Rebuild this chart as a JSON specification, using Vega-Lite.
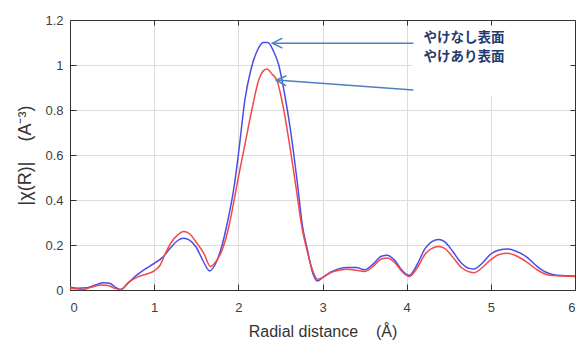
{
  "$schema": "https://vega.github.io/schema/vega-lite/v6.json",
  "autosize": "none",
  "width": 505,
  "height": 270,
  "padding": {"left": 70, "top": 20, "right": 1, "bottom": 50},
  "background": "white",
  "config": {
    "view": {"stroke": null},
    "axis": {
      "labelFont": "Liberation Sans",
      "labelFontSize": 13,
      "labelColor": "#404040",
      "titleFont": "Liberation Sans",
      "titleFontWeight": "normal",
      "titleColor": "#333333",
      "domainColor": "#333333",
      "domainWidth": 1,
      "tickColor": "#333333",
      "tickSize": -6,
      "gridColor": "#dcdcdc",
      "gridWidth": 1
    }
  },
  "datasets": {
    "curves": [
      {"series": "やけなし表面", "r": 0.0, "v": 0.012},
      {"series": "やけなし表面", "r": 0.1, "v": 0.008},
      {"series": "やけなし表面", "r": 0.2, "v": 0.01},
      {"series": "やけなし表面", "r": 0.3, "v": 0.022},
      {"series": "やけなし表面", "r": 0.4, "v": 0.032},
      {"series": "やけなし表面", "r": 0.47, "v": 0.03},
      {"series": "やけなし表面", "r": 0.55, "v": 0.01},
      {"series": "やけなし表面", "r": 0.6, "v": 0.002},
      {"series": "やけなし表面", "r": 0.7, "v": 0.035},
      {"series": "やけなし表面", "r": 0.8, "v": 0.068},
      {"series": "やけなし表面", "r": 0.9, "v": 0.095},
      {"series": "やけなし表面", "r": 1.0, "v": 0.118},
      {"series": "やけなし表面", "r": 1.1, "v": 0.145},
      {"series": "やけなし表面", "r": 1.2, "v": 0.19},
      {"series": "やけなし表面", "r": 1.28, "v": 0.22},
      {"series": "やけなし表面", "r": 1.35, "v": 0.23},
      {"series": "やけなし表面", "r": 1.42, "v": 0.222},
      {"series": "やけなし表面", "r": 1.5, "v": 0.19},
      {"series": "やけなし表面", "r": 1.58, "v": 0.13},
      {"series": "やけなし表面", "r": 1.66, "v": 0.085},
      {"series": "やけなし表面", "r": 1.72, "v": 0.11},
      {"series": "やけなし表面", "r": 1.8, "v": 0.19},
      {"series": "やけなし表面", "r": 1.87, "v": 0.3},
      {"series": "やけなし表面", "r": 1.95, "v": 0.46},
      {"series": "やけなし表面", "r": 2.0, "v": 0.6},
      {"series": "やけなし表面", "r": 2.08, "v": 0.85},
      {"series": "やけなし表面", "r": 2.15, "v": 0.98},
      {"series": "やけなし表面", "r": 2.22, "v": 1.06},
      {"series": "やけなし表面", "r": 2.3, "v": 1.1},
      {"series": "やけなし表面", "r": 2.35, "v": 1.1},
      {"series": "やけなし表面", "r": 2.42, "v": 1.06},
      {"series": "やけなし表面", "r": 2.48, "v": 1.0},
      {"series": "やけなし表面", "r": 2.55, "v": 0.87},
      {"series": "やけなし表面", "r": 2.62, "v": 0.71},
      {"series": "やけなし表面", "r": 2.7, "v": 0.48},
      {"series": "やけなし表面", "r": 2.76, "v": 0.29},
      {"series": "やけなし表面", "r": 2.82, "v": 0.18},
      {"series": "やけなし表面", "r": 2.88, "v": 0.08},
      {"series": "やけなし表面", "r": 2.94, "v": 0.04},
      {"series": "やけなし表面", "r": 3.0, "v": 0.055},
      {"series": "やけなし表面", "r": 3.1, "v": 0.08},
      {"series": "やけなし表面", "r": 3.2, "v": 0.095},
      {"series": "やけなし表面", "r": 3.3, "v": 0.1},
      {"series": "やけなし表面", "r": 3.4, "v": 0.1},
      {"series": "やけなし表面", "r": 3.5, "v": 0.09},
      {"series": "やけなし表面", "r": 3.6, "v": 0.115},
      {"series": "やけなし表面", "r": 3.7, "v": 0.15},
      {"series": "やけなし表面", "r": 3.77, "v": 0.155},
      {"series": "やけなし表面", "r": 3.85, "v": 0.135},
      {"series": "やけなし表面", "r": 3.95, "v": 0.085},
      {"series": "やけなし表面", "r": 4.03, "v": 0.065},
      {"series": "やけなし表面", "r": 4.12, "v": 0.11},
      {"series": "やけなし表面", "r": 4.22, "v": 0.185},
      {"series": "やけなし表面", "r": 4.3, "v": 0.215},
      {"series": "やけなし表面", "r": 4.38, "v": 0.225},
      {"series": "やけなし表面", "r": 4.45, "v": 0.215},
      {"series": "やけなし表面", "r": 4.55, "v": 0.17},
      {"series": "やけなし表面", "r": 4.65, "v": 0.12},
      {"series": "やけなし表面", "r": 4.75, "v": 0.095},
      {"series": "やけなし表面", "r": 4.8, "v": 0.093},
      {"series": "やけなし表面", "r": 4.9, "v": 0.12},
      {"series": "やけなし表面", "r": 5.0, "v": 0.16},
      {"series": "やけなし表面", "r": 5.1, "v": 0.178},
      {"series": "やけなし表面", "r": 5.2, "v": 0.182},
      {"series": "やけなし表面", "r": 5.3, "v": 0.172},
      {"series": "やけなし表面", "r": 5.42, "v": 0.148},
      {"series": "やけなし表面", "r": 5.55, "v": 0.105},
      {"series": "やけなし表面", "r": 5.65, "v": 0.08},
      {"series": "やけなし表面", "r": 5.75, "v": 0.068},
      {"series": "やけなし表面", "r": 5.85, "v": 0.064},
      {"series": "やけなし表面", "r": 6.0, "v": 0.062},
      {"series": "やけあり表面", "r": 0.0, "v": 0.008},
      {"series": "やけあり表面", "r": 0.1, "v": 0.004},
      {"series": "やけあり表面", "r": 0.15, "v": 0.002},
      {"series": "やけあり表面", "r": 0.25, "v": 0.012},
      {"series": "やけあり表面", "r": 0.37, "v": 0.022},
      {"series": "やけあり表面", "r": 0.45, "v": 0.02},
      {"series": "やけあり表面", "r": 0.55, "v": 0.005},
      {"series": "やけあり表面", "r": 0.6, "v": 0.002},
      {"series": "やけあり表面", "r": 0.7, "v": 0.035},
      {"series": "やけあり表面", "r": 0.8, "v": 0.057},
      {"series": "やけあり表面", "r": 0.9, "v": 0.07},
      {"series": "やけあり表面", "r": 1.0, "v": 0.085},
      {"series": "やけあり表面", "r": 1.07, "v": 0.11},
      {"series": "やけあり表面", "r": 1.13, "v": 0.16},
      {"series": "やけあり表面", "r": 1.2, "v": 0.21},
      {"series": "やけあり表面", "r": 1.28, "v": 0.245},
      {"series": "やけあり表面", "r": 1.35, "v": 0.26},
      {"series": "やけあり表面", "r": 1.42, "v": 0.25},
      {"series": "やけあり表面", "r": 1.51, "v": 0.207},
      {"series": "やけあり表面", "r": 1.59, "v": 0.163},
      {"series": "やけあり表面", "r": 1.67, "v": 0.104},
      {"series": "やけあり表面", "r": 1.72, "v": 0.12},
      {"series": "やけあり表面", "r": 1.81, "v": 0.18},
      {"series": "やけあり表面", "r": 1.88, "v": 0.27},
      {"series": "やけあり表面", "r": 1.95, "v": 0.4},
      {"series": "やけあり表面", "r": 2.0, "v": 0.5},
      {"series": "やけあり表面", "r": 2.08, "v": 0.65},
      {"series": "やけあり表面", "r": 2.16, "v": 0.8},
      {"series": "やけあり表面", "r": 2.24, "v": 0.93},
      {"series": "やけあり表面", "r": 2.3, "v": 0.975},
      {"series": "やけあり表面", "r": 2.34, "v": 0.982},
      {"series": "やけあり表面", "r": 2.4, "v": 0.96},
      {"series": "やけあり表面", "r": 2.46, "v": 0.93},
      {"series": "やけあり表面", "r": 2.53, "v": 0.82},
      {"series": "やけあり表面", "r": 2.6, "v": 0.667},
      {"series": "やけあり表面", "r": 2.68, "v": 0.47},
      {"series": "やけあり表面", "r": 2.76, "v": 0.27},
      {"series": "やけあり表面", "r": 2.82, "v": 0.17},
      {"series": "やけあり表面", "r": 2.88, "v": 0.09},
      {"series": "やけあり表面", "r": 2.94, "v": 0.048},
      {"series": "やけあり表面", "r": 3.0, "v": 0.055},
      {"series": "やけあり表面", "r": 3.1, "v": 0.078},
      {"series": "やけあり表面", "r": 3.2, "v": 0.088},
      {"series": "やけあり表面", "r": 3.3, "v": 0.092},
      {"series": "やけあり表面", "r": 3.4, "v": 0.088},
      {"series": "やけあり表面", "r": 3.5, "v": 0.082},
      {"series": "やけあり表面", "r": 3.6, "v": 0.105},
      {"series": "やけあり表面", "r": 3.7, "v": 0.138},
      {"series": "やけあり表面", "r": 3.77, "v": 0.142},
      {"series": "やけあり表面", "r": 3.85, "v": 0.125},
      {"series": "やけあり表面", "r": 3.95, "v": 0.08},
      {"series": "やけあり表面", "r": 4.03, "v": 0.06},
      {"series": "やけあり表面", "r": 4.12, "v": 0.095},
      {"series": "やけあり表面", "r": 4.22, "v": 0.16},
      {"series": "やけあり表面", "r": 4.3, "v": 0.185},
      {"series": "やけあり表面", "r": 4.38, "v": 0.193},
      {"series": "やけあり表面", "r": 4.45, "v": 0.185},
      {"series": "やけあり表面", "r": 4.55, "v": 0.145},
      {"series": "やけあり表面", "r": 4.65, "v": 0.1},
      {"series": "やけあり表面", "r": 4.75, "v": 0.08},
      {"series": "やけあり表面", "r": 4.8, "v": 0.077},
      {"series": "やけあり表面", "r": 4.9, "v": 0.1},
      {"series": "やけあり表面", "r": 5.0, "v": 0.135},
      {"series": "やけあり表面", "r": 5.1, "v": 0.158},
      {"series": "やけあり表面", "r": 5.2, "v": 0.163},
      {"series": "やけあり表面", "r": 5.3, "v": 0.152},
      {"series": "やけあり表面", "r": 5.42, "v": 0.126},
      {"series": "やけあり表面", "r": 5.55, "v": 0.09},
      {"series": "やけあり表面", "r": 5.65, "v": 0.07},
      {"series": "やけあり表面", "r": 5.75, "v": 0.064},
      {"series": "やけあり表面", "r": 5.85, "v": 0.062},
      {"series": "やけあり表面", "r": 6.0, "v": 0.06}
    ],
    "labelbox": [{"x0": 4.07, "x1": 6.0, "y0": 0.86, "y1": 1.2}],
    "arrows": [
      {"label": "やけなし表面", "tx": 4.08, "ty": 1.097, "hx": 2.405, "hy": 1.097},
      {"label": "やけあり表面", "tx": 4.08, "ty": 0.889, "hx": 2.45, "hy": 0.933}
    ],
    "labels": [
      {"label": "やけなし表面", "lx": 4.2, "ly": 1.12},
      {"label": "やけあり表面", "lx": 4.2, "ly": 1.036}
    ]
  },
  "resolve": {"axis": {"x": "independent", "y": "independent"}},
  "layer": [
    {
      "data": {"name": "curves"},
      "mark": {"type": "line", "strokeWidth": 1.5, "interpolate": "monotone"},
      "encoding": {
        "x": {
          "field": "r", "type": "quantitative",
          "scale": {"domain": [0, 6], "nice": false},
          "axis": {
            "orient": "bottom", "values": [0, 1, 2, 3, 4, 5, 6], "format": "~g",
            "grid": true, "labelPadding": 17, "title": "Radial distance\u00a0\u00a0\u00a0\u00a0(Å)",
            "titleFontSize": 16, "titlePadding": 9
          }
        },
        "y": {
          "field": "v", "type": "quantitative",
          "scale": {"domain": [0, 1.2], "nice": false},
          "axis": {
            "orient": "left", "values": [0, 0.2, 0.4, 0.6, 0.8, 1, 1.2], "format": "~g",
            "grid": true, "labelPadding": 13, "title": "|χ(R)|\u00a0\u00a0\u00a0\u00a0(A⁻³)",
            "titleFontSize": 18, "titlePadding": 10
          }
        },
        "color": {
          "field": "series", "type": "nominal",
          "scale": {"domain": ["やけなし表面", "やけあり表面"], "range": ["#4b4be8", "#f04a4a"]},
          "legend": null
        },
        "order": {"field": "r", "type": "quantitative"}
      }
    },
    {
      "data": {"name": "labelbox"},
      "mark": {"type": "rect", "fill": "white"},
      "encoding": {
        "x": {
          "field": "x0", "type": "quantitative",
          "axis": {"orient": "top", "values": [1, 2, 3, 4, 5], "labels": false, "title": null, "grid": false, "tickSize": -5, "zindex": 1}
        },
        "x2": {"field": "x1"},
        "y": {
          "field": "y0", "type": "quantitative",
          "axis": {"orient": "right", "values": [0.2, 0.4, 0.6, 0.8, 1], "labels": false, "title": null, "grid": false, "tickSize": -5, "zindex": 1}
        },
        "y2": {"field": "y1"}
      }
    },
    {
      "data": {"name": "arrows"},
      "mark": {"type": "rule", "color": "#4f7fbf", "strokeWidth": 1.5},
      "encoding": {
        "x": {"field": "tx", "type": "quantitative", "axis": null},
        "y": {"field": "ty", "type": "quantitative", "axis": null},
        "x2": {"field": "hx"},
        "y2": {"field": "hy"}
      }
    },
    {
      "data": {"name": "arrows"},
      "transform": [{"filter": "datum.label === 'やけなし表面'"}],
      "mark": {"type": "point", "shape": "M2,-1L0,0L2,1", "size": 100, "filled": false, "stroke": "#4f7fbf", "strokeWidth": 1.5, "opacity": 1},
      "encoding": {
        "x": {"field": "hx", "type": "quantitative", "axis": null},
        "y": {"field": "hy", "type": "quantitative", "axis": null}
      }
    },
    {
      "data": {"name": "arrows"},
      "transform": [{"filter": "datum.label === 'やけあり表面'"}],
      "mark": {"type": "point", "shape": "M2,-1L0,0L2,1", "size": 100, "angle": 4, "filled": false, "stroke": "#4f7fbf", "strokeWidth": 1.5, "opacity": 1},
      "encoding": {
        "x": {"field": "hx", "type": "quantitative", "axis": null},
        "y": {"field": "hy", "type": "quantitative", "axis": null}
      }
    },
    {
      "data": {"name": "labels"},
      "mark": {"type": "text", "align": "left", "baseline": "middle", "font": "Noto Sans CJK JP", "fontSize": 13.5, "fontWeight": "bold", "color": "#1f3a6e"},
      "encoding": {
        "x": {"field": "lx", "type": "quantitative", "axis": null},
        "y": {"field": "ly", "type": "quantitative", "axis": null},
        "text": {"field": "label"}
      }
    }
  ]
}
